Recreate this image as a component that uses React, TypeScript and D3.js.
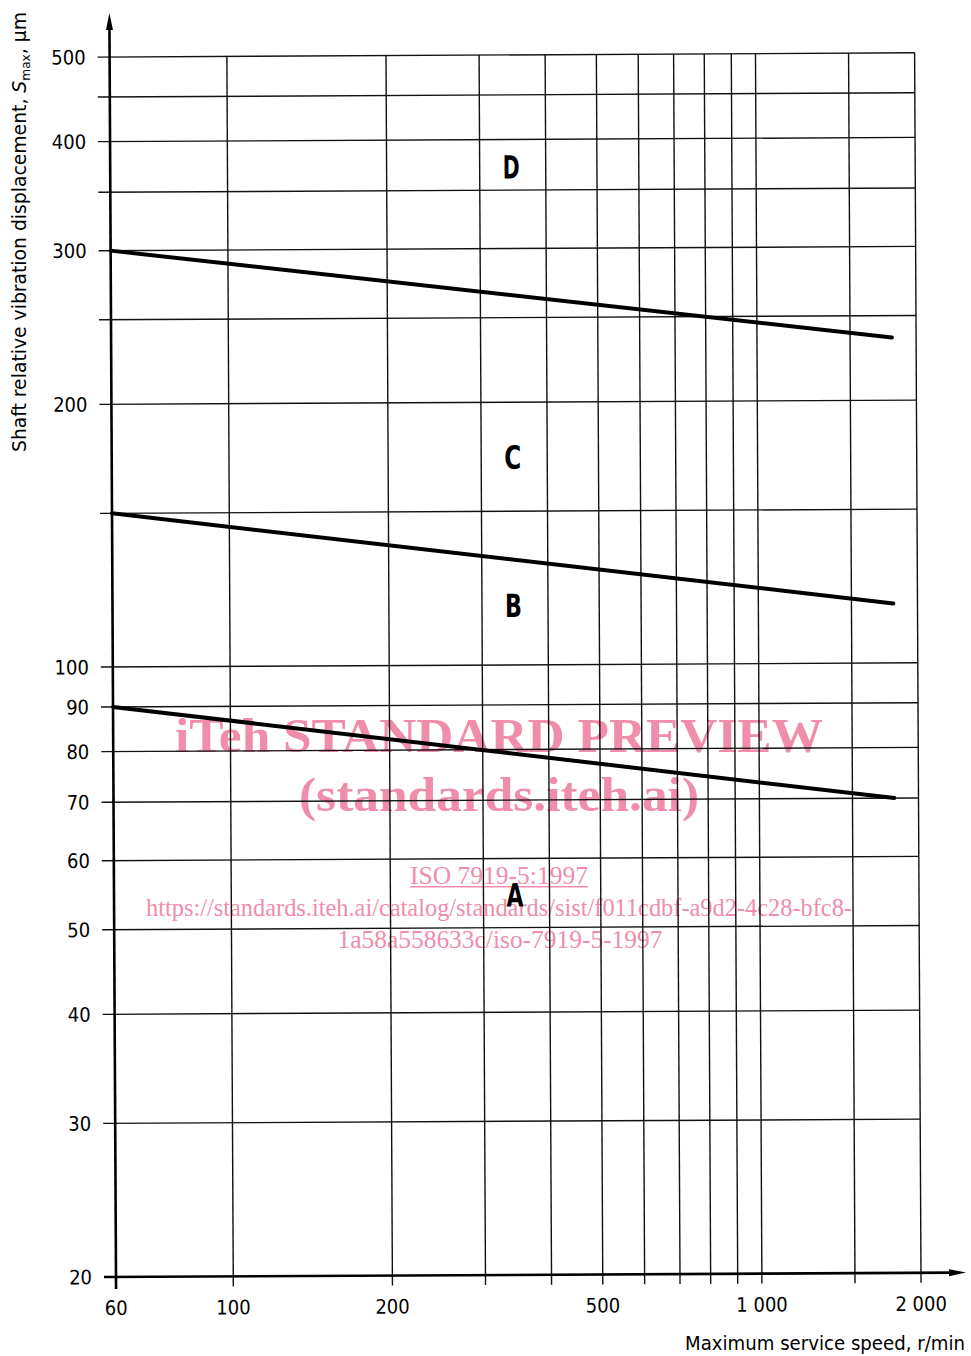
import * as d3 from 'd3';

// Zone boundary chart, log-log (speed vs. displacement)

const speedTicks = [60, 100, 200, 500, 1000, 2000];
const speedGrid = [100, 200, 300, 400, 500, 600, 700, 800, 900, 1000, 1500, 2000];
const dispTicks = [500, 400, 300, 200, 100, 90, 80, 70, 60, 50, 40, 30, 20];
const dispGrid = [500, 450, 400, 350, 300, 250, 200, 150, 100, 90, 80, 70, 60, 50, 40, 30];

const boundaryDC: [number, number][] = [[60, 300], [1800, 236]];
const boundaryCB: [number, number][] = [[60, 150], [1800, 117]];
const boundaryBA: [number, number][] = [[60, 90], [1800, 70]];

const zoneLabels = ['D', 'C', 'B', 'A'];
const zoneSpeed = [344, 344, 344, 344];
const zoneDisp = [372, 173, 117, 54.5];

const W = 971;
const H = 1356;
const FONT = '"DejaVu Sans Condensed", "DejaVu Sans", sans-serif';
const PINK = '#ef8dab';

export default function App() {
    const x = d3.scaleLog().domain([60, 2000]).range([116, 921]);
    const y = d3.scaleLog().domain([20, 500]).range([1277, 57]);
    const line = d3.line<[number, number]>()
        .x(d => x(d[0]))
        .y(d => y(d[1]));

    const x0 = x(60);
    const x1 = x(2000);
    const y0 = y(20);
    const y1 = y(500);

    const fmtSpeed = (d: number) => d >= 1000 ? d3.format(',')(d).replace(',', ' ') : String(d);

    return (
        <svg width={W} height={H} style={{ position: 'absolute', left: 0, top: 0, background: '#fff' }}>
            {/* Watermark */}
            <g fill={PINK} fontFamily='"Liberation Serif", "Times New Roman", serif' textAnchor="middle">
                <text x={499} y={752} fontSize={48} fontWeight="bold" textLength={648} lengthAdjust="spacingAndGlyphs">
                    iTeh STANDARD PREVIEW
                </text>
                <text x={499} y={811} fontSize={48} fontWeight="bold" textLength={400} lengthAdjust="spacingAndGlyphs">
                    (standards.iteh.ai)
                </text>
                <text x={499} y={884} fontSize={26} textLength={178} lengthAdjust="spacingAndGlyphs">
                    ISO 7919-5:1997
                </text>
                <rect x={410} y={886} width={178} height={1.5} />
                <text x={499} y={916} fontSize={26} textLength={706} lengthAdjust="spacingAndGlyphs">
                    https://standards.iteh.ai/catalog/standards/sist/f011cdbf-a9d2-4c28-bfc8-
                </text>
                <text x={500} y={948} fontSize={26} textLength={325} lengthAdjust="spacingAndGlyphs">
                    1a58a558633c/iso-7919-5-1997
                </text>
            </g>

            {/* Scanned chart, slightly rotated */}
            <g transform={`rotate(-0.3, ${x0}, ${y0})`}>
                {/* Horizontal grid + left ticks */}
                {dispGrid.map(d => (
                    <line key={'h' + d} x1={x0 - 12} x2={x1} y1={y(d)} y2={y(d)} stroke="#111" strokeWidth={1.4} />
                ))}
                {/* Vertical grid + bottom ticks */}
                {speedGrid.map(d => (
                    <line key={'v' + d} x1={x(d)} x2={x(d)} y1={y1} y2={y0 + 10} stroke="#111" strokeWidth={1.4} />
                ))}

                {/* Axes */}
                <line x1={x0} x2={x0} y1={y0 + 12} y2={24} stroke="#000" strokeWidth={2.6} />
                <path d={`M${x0},13 L${x0 - 3.5},30 L${x0 + 3.5},30 Z`} fill="#000" />
                <line x1={x0 - 12} x2={955} y1={y0} y2={y0} stroke="#000" strokeWidth={2.6} />
                <path d={`M966,${y0} L949,${y0 - 3.5} L949,${y0 + 3.5} Z`} fill="#000" />

                {/* Y tick labels */}
                <g fontFamily={FONT} fontSize={20} textAnchor="end" fill="#000">
                    {dispTicks.map(d => (
                        <text key={'yl' + d} x={92} y={y(d)} dy="0.36em">{d}</text>
                    ))}
                </g>

                {/* X tick labels */}
                <g fontFamily={FONT} fontSize={20} textAnchor="middle" fill="#000">
                    {speedTicks.map(d => (
                        <text key={'xl' + d} x={x(d)} y={1315}>{fmtSpeed(d)}</text>
                    ))}
                </g>

                {/* Zone boundaries */}
                {[boundaryDC, boundaryCB, boundaryBA].map((b, i) => (
                    <path key={'b' + i} d={line(b) || ''} fill="none" stroke="#000" strokeWidth={4} strokeLinecap="round" />
                ))}

                {/* Zone labels */}
                <g fontFamily={FONT} fontSize={32} fontWeight="bold" textAnchor="middle" fill="#000">
                    {zoneLabels.map((z, i) => (
                        <text key={z} x={x(zoneSpeed[i])} y={y(zoneDisp[i])} dy="0.36em"
                            textLength={17} lengthAdjust="spacingAndGlyphs">{z}</text>
                    ))}
                </g>
            </g>

            {/* Axis titles */}
            <text x={965} y={1350} textAnchor="end" fontFamily={FONT} fontSize={20} fill="#000"
                textLength={280} lengthAdjust="spacingAndGlyphs">
                Maximum service speed, r/min
            </text>
            <text transform="translate(26,452) rotate(-90)" fontFamily={FONT} fontSize={20} fill="#000"
                textLength={440} lengthAdjust="spacingAndGlyphs">
                Shaft relative vibration displacement, <tspan fontStyle="italic">S</tspan>
                <tspan fontSize={13} dy={4}>max</tspan><tspan dy={-4}>, µm</tspan>
            </text>
        </svg>
    );
}
